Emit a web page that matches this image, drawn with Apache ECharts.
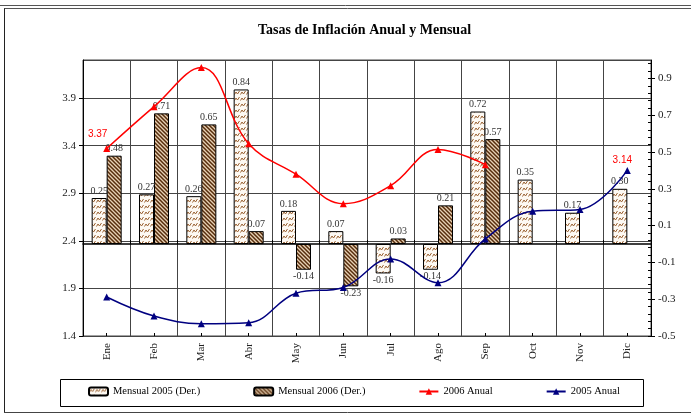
<!DOCTYPE html>
<html lang="es">
<head>
<meta charset="UTF-8" />
<title>Tasas de Inflación Anual y Mensual</title>
<script src="https://cdn.jsdelivr.net/npm/echarts@6/dist/echarts.min.js"></script>
<style>html,body{margin:0;padding:0;background:#fff;}</style>
</head>
<body>
<div id="main" style="width:691px;height:414px;"></div>
<script type="text/javascript">
// datos
var meses = ['Ene', 'Feb', 'Mar', 'Abr', 'May', 'Jun', 'Jul', 'Ago', 'Sep', 'Oct', 'Nov', 'Dic'];
var mensual2005 = [0.25, 0.27, 0.26, 0.84, 0.18, 0.07, -0.16, -0.14, 0.72, 0.35, 0.17, 0.30];
var mensual2006 = [0.48, 0.71, 0.65, 0.07, -0.14, -0.23, 0.03, 0.21, 0.57, null, null, null];
var anual2006 = [3.37, 3.81, 4.22, 3.42, 3.10, 2.79, 2.98, 3.36, 3.20, null, null, null];
var anual2005 = [1.81, 1.61, 1.53, 1.54, 1.85, 1.91, 2.21, 1.96, 2.42, 2.71, 2.73, 3.14];
var ticksIzq = [1.4, 1.9, 2.4, 2.9, 3.4, 3.9];
var ticksDer = [-0.5, -0.3, -0.1, 0.1, 0.3, 0.5, 0.7, 0.9];
var ticksDerMenor = [];
for (var k = 0; k <= 37; k++) ticksDerMenor.push(Math.round((-0.5 + k * 0.04) * 100) / 100);

var serif = 'Liberation Serif';

// tramas de las barras
function trama2005() {
    var c = document.createElement('canvas');
    c.width = 6; c.height = 6;
    var g = c.getContext('2d');
    g.fillStyle = '#fdf9f3';
    g.fillRect(0, 0, 6, 6);
    g.strokeStyle = '#9a6233';
    g.lineWidth = 1;
    g.beginPath();
    g.moveTo(0.5, 4.5); g.lineTo(2, 2); g.lineTo(3.5, 4); g.lineTo(5.5, 1);
    g.stroke();
    return c;
}
function trama2006() {
    var c = document.createElement('canvas');
    c.width = 4; c.height = 4;
    var g = c.getContext('2d');
    g.fillStyle = '#e6d0b4';
    g.fillRect(0, 0, 4, 4);
    g.strokeStyle = '#562c0b';
    g.lineWidth = 1.5;
    g.beginPath();
    g.moveTo(0, 0); g.lineTo(4, 4);
    g.moveTo(-1, 3); g.lineTo(1, 5);
    g.moveTo(3, -1); g.lineTo(5, 1);
    g.stroke();
    return c;
}

function datosBarra(arr) {
    return arr.map(function (v) {
        if (v === null) return '-';
        return { value: v, label: { position: v < 0 ? 'bottom' : 'top' } };
    });
}

var etiquetaBarra = {
    show: true,
    distance: 2,
    fontFamily: serif,
    fontSize: 10,
    color: '#333',
    formatter: function (p) { return Number(p.value).toFixed(2); }
};

var etiquetaRoja = { show: true, position: 'top', color: '#ff0000', fontFamily: 'Liberation Sans', fontSize: 10 };

var myChart = echarts.init(document.getElementById('main'));
var option = {
    animation: false,
    backgroundColor: '#fff',
    title: {
        text: 'Tasas de Inflación Anual y Mensual',
        left: 258, top: 23, padding: 0,
        textStyle: { fontFamily: serif, fontSize: 14, fontWeight: 'bold', color: '#000' }
    },
    graphic: [
        { type: 'line', shape: { x1: 0, y1: 5.5, x2: 691, y2: 5.5 }, style: { stroke: '#555', lineWidth: 1 } },
        { type: 'line', shape: { x1: 4, y1: 8.5, x2: 691, y2: 8.5 }, style: { stroke: '#555', lineWidth: 1 } },
        { type: 'line', shape: { x1: 4.5, y1: 8.5, x2: 4.5, y2: 412.5 }, style: { stroke: '#222', lineWidth: 1 } },
        { type: 'line', shape: { x1: 4, y1: 412.5, x2: 691, y2: 412.5 }, style: { stroke: '#444', lineWidth: 1 } },
        { type: 'rect', shape: { x: 60.5, y: 379.5, width: 583, height: 27 }, style: { fill: 'none', stroke: '#000', lineWidth: 1 } }
    ],
    legend: {
        left: 88, top: 386, padding: 0,
        itemGap: 53, itemWidth: 19, itemHeight: 8,
        textStyle: { fontFamily: serif, fontSize: 10.5, color: '#000' },
        data: ['Mensual 2005 (Der.)', 'Mensual 2006 (Der.)', '2006 Anual', '2005 Anual']
    },
    grid: { left: 83, right: 40, top: 60, bottom: 78, show: true, borderColor: '#444', borderWidth: 1 },
    xAxis: [
        {
            type: 'category', data: meses, position: 'bottom',
            axisLine: { lineStyle: { color: '#000', width: 1.5 } },
            axisTick: { show: true, interval: 0, inside: true, length: 4, lineStyle: { color: '#000' } },
            axisLabel: { rotate: 90, interval: 0, margin: 7, fontFamily: serif, fontSize: 11, color: '#222' },
            splitLine: { show: true, interval: 0, lineStyle: { color: '#444', width: 1 } }
        },
        {
            type: 'category', data: meses, position: 'bottom', offset: 0,
            axisLine: { show: false },
            axisTick: { show: true, alignWithLabel: true, interval: 0, inside: true, length: 3, lineStyle: { color: '#000' } },
            axisLabel: { show: false },
            splitLine: { show: false }
        }
    ],
    yAxis: [
        {
            type: 'value', position: 'left', min: 1.4, max: 4.3,
            axisLine: { show: true, lineStyle: { color: '#000' } },
            axisTick: { show: true, customValues: ticksIzq, length: 4, lineStyle: { color: '#000' } },
            axisLabel: { customValues: ticksIzq, margin: 7, fontFamily: serif, fontSize: 11, color: '#222',
                formatter: function (v) { return v.toFixed(1); } },
            splitLine: { show: false }
        },
        {
            type: 'value', position: 'right', min: -0.5, max: 1.0,
            axisLine: { show: true, lineStyle: { color: '#000' } },
            axisTick: { show: true, customValues: ticksDer, length: 4, lineStyle: { color: '#000' } },
            axisLabel: { customValues: ticksDer, margin: 7, fontFamily: serif, fontSize: 11, color: '#222',
                formatter: function (v) { return v.toFixed(1); } },
            splitLine: { show: false }
        },
        {
            // solo para las lineas horizontales de la cuadricula (1.4, 1.9, ... del eje izquierdo)
            type: 'value', position: 'left', min: 0, max: 2.9, interval: 0.5,
            axisLine: { show: false }, axisTick: { show: false }, axisLabel: { show: false },
            splitLine: { show: true, lineStyle: { color: '#444', width: 1 } }
        },
        {
            // marcas menores del eje derecho
            type: 'value', position: 'right', min: -0.5, max: 1.0,
            axisLine: { show: false },
            axisTick: { show: true, customValues: ticksDerMenor, inside: true, length: 3, lineStyle: { color: '#000' } },
            axisLabel: { show: false },
            splitLine: { show: false }
        }
    ],
    series: [
        {
            name: 'Mensual 2005 (Der.)', type: 'bar', yAxisIndex: 1,
            barWidth: 15, barGap: '0%',
            itemStyle: { color: { image: trama2005(), repeat: 'repeat' }, borderColor: '#000', borderWidth: 1 },
            label: etiquetaBarra,
            data: datosBarra(mensual2005)
        },
        {
            name: 'Mensual 2006 (Der.)', type: 'bar', yAxisIndex: 1,
            barWidth: 15, barGap: '0%',
            itemStyle: { color: { image: trama2006(), repeat: 'repeat' }, borderColor: '#000', borderWidth: 1 },
            label: etiquetaBarra,
            data: datosBarra(mensual2006)
        },
        {
            name: '2006 Anual', type: 'line', yAxisIndex: 0, z: 5,
            smooth: 0.4, symbol: 'triangle', symbolSize: 7,
            lineStyle: { color: '#ff0000', width: 1.5 },
            itemStyle: { color: '#ff0000' },
            data: anual2006.map(function (v, i) {
                if (v === null) return '-';
                if (i === 0) return { value: v, label: Object.assign({ offset: [-9, -1] }, etiquetaRoja) };
                return v;
            })
        },
        {
            name: '2005 Anual', type: 'line', yAxisIndex: 0, z: 5,
            smooth: 0.4, symbol: 'triangle', symbolSize: 7,
            lineStyle: { color: '#000080', width: 1.5 },
            itemStyle: { color: '#000080' },
            data: anual2005.map(function (v, i) {
                if (i === anual2005.length - 1) return { value: v, label: Object.assign({ offset: [-5, 3] }, etiquetaRoja) };
                return v;
            })
        }
    ]
};
myChart.setOption(option);
</script>
</body>
</html>
